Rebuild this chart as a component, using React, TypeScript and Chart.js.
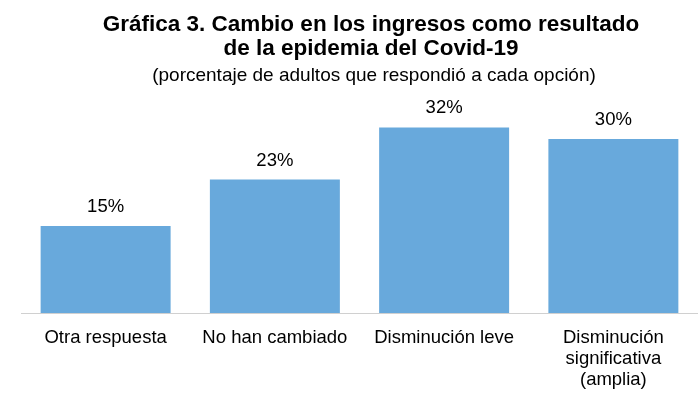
import React, { useEffect, useRef } from "react";
import { Chart, registerables } from "chart.js";

Chart.register(...registerables);

const categories: (string | string[])[] = [
  "Otra respuesta",
  "No han cambiado",
  "Disminución leve",
  ["Disminución", "significativa", "(amplia)"],
];
const values: number[] = [15, 23, 32, 30];
const titleLines: string[] = [
  "Gráfica 3. Cambio en los ingresos como resultado",
  "de la epidemia del Covid-19",
];
const subtitleText = "(porcentaje de adultos que respondió a cada opción)";

const FONT = "'Liberation Sans', Arial, sans-serif";

const titlePlugin = {
  id: "customTitle",
  afterDraw(chart: any) {
    const ctx = chart.ctx;
    ctx.save();
    ctx.fillStyle = "#000";
    ctx.textAlign = "center";
    ctx.textBaseline = "middle";
    ctx.font = `bold 22.5px ${FONT}`;
    ctx.fillText(titleLines[0], 371, 25);
    ctx.fillText(titleLines[1], 371, 48.5);
    ctx.font = `19px ${FONT}`;
    ctx.fillText(subtitleText, 374, 76);
    ctx.restore();
  },
};

const valueLabelPlugin = {
  id: "valueLabels",
  afterDatasetsDraw(chart: any) {
    const ctx = chart.ctx;
    const meta = chart.getDatasetMeta(0);
    ctx.save();
    ctx.fillStyle = "#000";
    ctx.textAlign = "center";
    ctx.textBaseline = "middle";
    ctx.font = `18.5px ${FONT}`;
    meta.data.forEach((bar: any, i: number) => {
      ctx.fillText(`${values[i]}%`, bar.x, bar.y - 19);
    });
    ctx.restore();
  },
};

export default function App() {
  const ref = useRef<HTMLCanvasElement>(null);
  useEffect(() => {
    document.body.style.margin = "0";
    const chart = new Chart(ref.current!, {
      type: "bar",
      data: {
        labels: categories,
        datasets: [
          {
            data: values,
            backgroundColor: "#68A9DC",
            barPercentage: 0.768,
            categoryPercentage: 1,
          },
        ],
      },
      options: {
        responsive: false,
        animation: false,
        devicePixelRatio: 1,
        layout: { padding: { top: 110, left: 21, right: 0, bottom: 0 } },
        plugins: {
          legend: { display: false },
          title: { display: false },
          tooltip: { enabled: false },
        },
        scales: {
          x: {
            grid: { display: false, drawTicks: false },
            border: { display: true, color: "#d0d0d0", width: 1 },
            ticks: {
              color: "#000",
              padding: 14.5,
              maxRotation: 0,
              autoSkip: false,
              font: { family: FONT, size: 18.5, lineHeight: 1.135 },
            },
            afterFit: (s: any) => {
              s.height = 83;
            },
          },
          y: {
            display: false,
            min: 0,
            max: 35,
          },
        },
      },
      plugins: [titlePlugin, valueLabelPlugin],
    });
    return () => chart.destroy();
  }, []);
  return (
    <div style={{ width: 698, height: 396, background: "#fff" }}>
      <canvas ref={ref} width={698} height={396} />
    </div>
  );
}
